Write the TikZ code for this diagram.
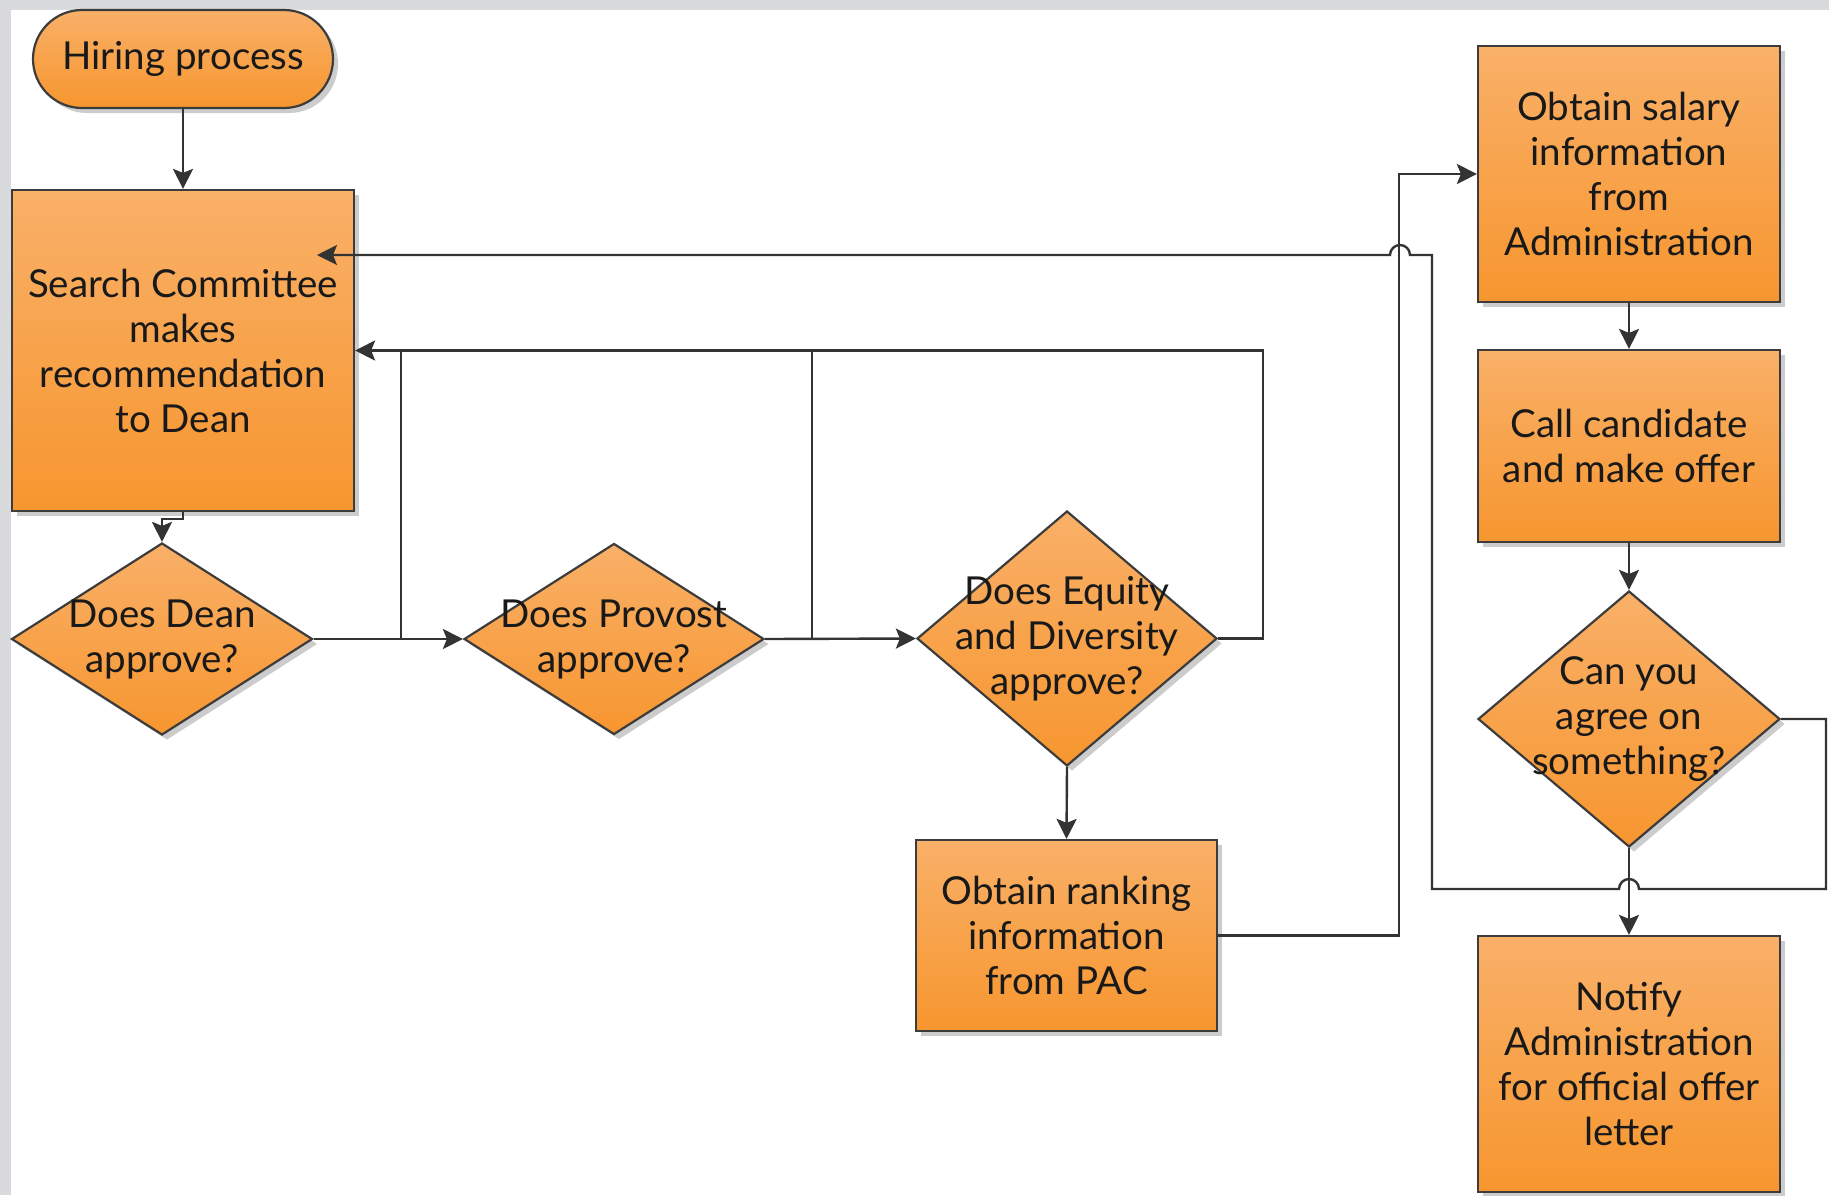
\documentclass[tikz,border=0pt]{standalone}
\usepackage{fontspec}
\setmainfont{Lato}
\usetikzlibrary{shapes.geometric,arrows.meta,shadows,calc}
\definecolor{otop}{HTML}{F9B068}
\definecolor{obot}{HTML}{F7962F}
\definecolor{edgec}{HTML}{3C3C3C}
\definecolor{lnc}{HTML}{333333}
\definecolor{bgc}{HTML}{D9DADC}
\tikzset{
 shapebox/.style={draw=edgec, line width=2.2pt, top color=otop, bottom color=obot, inner sep=0pt, align=center,
   font=\fontsize{38.5}{45}\selectfont, text=black!90,
   drop shadow={shadow xshift=5pt, shadow yshift=-5pt, opacity=0.4, fill=black!50}},
 rbox/.style={shapebox, rectangle},
 term/.style={shapebox, rectangle, rounded corners=49pt},
 dia/.style={shapebox, diamond},
 lbl/.style={inner sep=0pt, align=center, font=\fontsize{38.5}{45}\selectfont, text=black!90},
 conn/.style={draw=lnc, line width=2.4pt},
 arr/.style={conn, -{Stealth[length=20pt,width=20pt,inset=4pt]}},
}
\begin{document}
\begin{tikzpicture}[x=1pt,y=-1pt]
\useasboundingbox (0,0) rectangle (1829,1195);
\fill[bgc] (0,0) rectangle (1829,1195);
\fill[white] (11,10) rectangle (1829,1195);

\node[term, minimum width=300pt, minimum height=98pt] (hire) at (183,59) {Hiring process};
\node[rbox, minimum width=342pt, minimum height=321pt] (search) at (183,350.5) {Search Committee\\makes\\recommendation\\to Dean};
\node[dia, minimum width=301pt, minimum height=192pt] (dean) at (162,639) {};
\node[lbl] (deant) at (dean) {Does Dean\\approve?};
\node[dia, minimum width=300pt, minimum height=191pt] (prov) at (614,639) {};
\node[lbl] (provt) at (prov) {Does Provost\\approve?};
\node[dia, minimum width=300pt, minimum height=255pt] (eq) at (1067,638.5) {};
\node[lbl] (eqt) at (eq) {Does Equity\\and Diversity\\approve?};
\node[rbox, minimum width=301pt, minimum height=191pt] (rank) at (1066.5,935.5) {Obtain ranking\\information\\from PAC};
\node[rbox, minimum width=302pt, minimum height=256pt] (sal) at (1629,174) {Obtain salary\\information\\from\\Administration};
\node[rbox, minimum width=302pt, minimum height=192pt] (call) at (1629,446) {Call candidate\\and make offer};
\node[dia, minimum width=302pt, minimum height=256pt] (agree) at (1629,719) {};
\node[lbl] (agreet) at (agree) {Can you\\agree on\\something?};
\node[rbox, minimum width=302pt, minimum height=256pt] (notify) at (1629,1064) {Notify\\Administration\\for official offer\\letter};

\draw[arr] (hire.south) -- (search.north);
\draw[arr] (search.south) -- ++(0,7) -| (dean.north);
\draw[arr] (dean.east) -- (prov.west);
\draw[arr] (prov.east) -- (eq.west);
\coordinate (j1) at (401,639);
\coordinate (j2) at (812,639);
\draw[conn] (j1) -- (j1 |- search.east);
\draw[conn] (j2) -- (j2 |- search.east);
\draw[arr] (eq.east) -- ++(45,0) |- (search.east);
\draw[arr] (eq.south) -- (rank.north);
\draw[arr] (rank.east) -| ($(sal.west)+(-78,0)$) -- (sal.west);
\draw[arr] (sal.south) -- (call.north);
\draw[arr] (call.south) -- (agree.north);
\draw[arr] (agree.south) -- (notify.north);
\coordinate (ret) at (317,255);
\draw[arr] (agree.east) -- (1826,719) -- (1826,889) -- (1639,889)
  arc[start angle=0,end angle=180,radius=10pt] -- (1432,889) -- (1432,255) -- (1410,255)
  arc[start angle=0,end angle=180,radius=10pt] -- (ret);
\end{tikzpicture}
\end{document}
